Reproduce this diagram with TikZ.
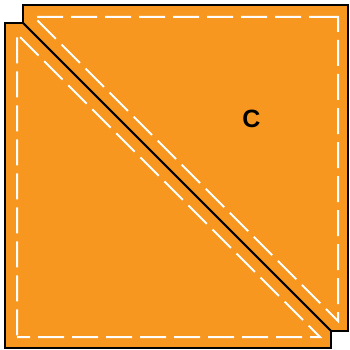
\documentclass[tikz,border=0pt]{standalone}
\usepackage{fontspec}
\setmainfont{Liberation Sans}
\definecolor{quiltorange}{RGB}{248,151,31}
\tikzset{
  patch/.style={fill=quiltorange, draw=black, line width=1.8pt, line join=miter},
  seam/.style={draw=white, line width=2pt, dash pattern=on 26pt off 8pt},
}
\begin{document}
\begin{tikzpicture}[x=1pt,y=-1pt]
\useasboundingbox (0,0) rectangle (349,350);
% upper-right patch
\path[patch] (23,5) -- (348,5) -- (348,331) -- (331,331) -- (23,23) -- cycle;
% lower-left patch
\path[patch] (5,23) -- (23,23) -- (331,331) -- (331,348) -- (5,348) -- cycle;
% seam lines
\draw[seam, dash phase=0pt] (327,17) -- (338,17) -- (338,321) -- (34,17) -- cycle;
\draw[seam, dash phase=13pt] (17,337) -- (320,337) -- (17,34) -- cycle;
\node[font=\bfseries\fontsize{25}{25}\selectfont, inner sep=0pt] (label) at (251.5,118.5) {C};
\end{tikzpicture}
\end{document}
